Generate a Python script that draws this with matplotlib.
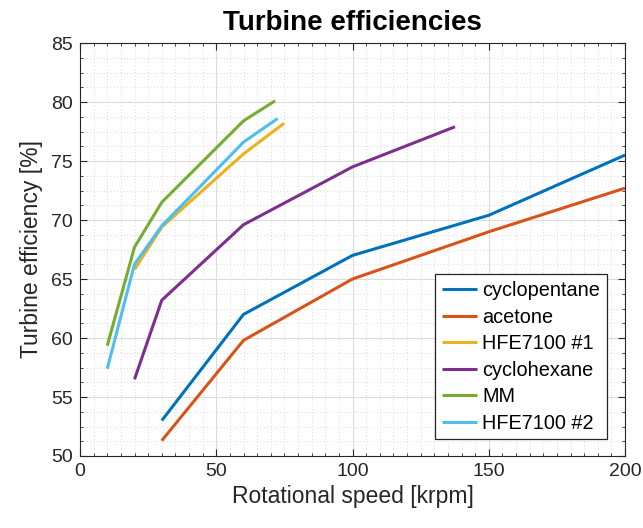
import matplotlib
matplotlib.use("Agg")
import matplotlib.pyplot as plt
from matplotlib.ticker import MultipleLocator

cyclopentane_x = [30, 60, 100, 150, 200]
cyclopentane_y = [53.0, 62.0, 67.0, 70.4, 75.5]
acetone_x = [30, 60, 100, 150, 200]
acetone_y = [51.3, 59.8, 65.0, 69.0, 72.7]
hfe1_x = [20, 30, 60, 74.9]
hfe1_y = [65.8, 69.4, 75.6, 78.2]
cyclohexane_x = [20, 30, 60, 100, 137.6]
cyclohexane_y = [56.5, 63.2, 69.6, 74.5, 77.9]
mm_x = [10, 20, 30, 60, 71.6]
mm_y = [59.35, 67.7, 71.5, 78.4, 80.1]
hfe2_x = [10, 20, 30, 60, 72.5]
hfe2_y = [57.4, 66.25, 69.5, 76.6, 78.6]

series = [
    ("cyclopentane", cyclopentane_x, cyclopentane_y, "#0072BD"),
    ("acetone", acetone_x, acetone_y, "#D95319"),
    ("HFE7100 #1", hfe1_x, hfe1_y, "#EDB120"),
    ("cyclohexane", cyclohexane_x, cyclohexane_y, "#7E2F8E"),
    ("MM", mm_x, mm_y, "#77AC30"),
    ("HFE7100 #2", hfe2_x, hfe2_y, "#4DBEEE"),
]

plt.rcParams['font.family'] = ['Liberation Sans', 'DejaVu Sans']
fig = plt.figure(figsize=(6.43, 5.28), dpi=100)
ax = fig.add_axes([80/643, 1-456/528, (625-80)/643, (456-43)/528])

for name, x, y, c in series:
    ax.plot(x, y, color=c, lw=2.2, label=name, solid_capstyle='butt')

ax.set_xlim(0, 200)
ax.set_ylim(50, 85)
ax.xaxis.set_major_locator(MultipleLocator(50))
ax.xaxis.set_minor_locator(MultipleLocator(5))
ax.yaxis.set_major_locator(MultipleLocator(5))
ax.yaxis.set_minor_locator(MultipleLocator(1.25))
ax.grid(which='major', color='#dcdcdc', lw=0.8, ls='-')
ax.grid(which='minor', color='#cccccc', lw=0.6, ls=(0, (1, 3)))
ax.set_axisbelow(True)
ax.tick_params(which='both', direction='in', top=True, right=True, colors='#262626', labelsize=14)
ax.tick_params(which='major', length=5, width=0.8, pad=5)
ax.tick_params(which='minor', length=2.5, width=0.6)
for s in ax.spines.values():
    s.set_color('#262626')
    s.set_linewidth(0.8)

ax.set_title("Turbine efficiencies", fontsize=20, fontweight='bold', pad=9)
ax.set_xlabel("Rotational speed [krpm]", fontsize=16.5, color='#262626', labelpad=4)
ax.set_ylabel("Turbine efficiency [%]", fontsize=16.5, color='#262626', labelpad=6)

leg = ax.legend(loc='lower right', bbox_to_anchor=(0.9664, 0.0404), fontsize=14.3,
                fancybox=False, framealpha=1, edgecolor='#262626', handlelength=1.8,
                borderaxespad=0, labelspacing=0.38, handletextpad=0.25, borderpad=0.33)
leg.get_frame().set_linewidth(0.9)

fig.savefig("out.png", dpi=100)
